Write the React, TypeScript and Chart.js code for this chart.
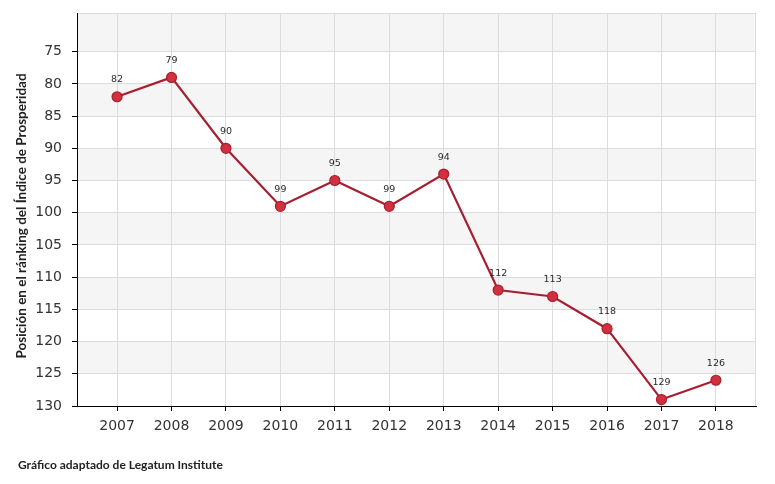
import React, { useEffect, useRef } from "react";
import { Chart, registerables } from "chart.js";

Chart.register(...registerables);

const years: number[] = [2007, 2008, 2009, 2010, 2011, 2012, 2013, 2014, 2015, 2016, 2017, 2018];
const ranking: number[] = [82, 79, 90, 99, 95, 99, 94, 112, 113, 118, 129, 126];
const yTicks: number[] = [75, 80, 85, 90, 95, 100, 105, 110, 115, 120, 125, 130];
const yMin = 69;
const yMax = 130;
const bandStops: number[] = [69, 75, 80, 85, 90, 95, 100, 105, 110, 115, 120, 125, 130];
const yTitle = "Posición en el ránking del Índice de Prosperidad";
const footer = "Gráfico adaptado de Legatum Institute";

const bandsPlugin = {
  id: "bands",
  beforeDraw(chart: any) {
    const { ctx, chartArea } = chart;
    const ys = chart.scales.y;
    ctx.save();
    ctx.fillStyle = "#ffffff";
    ctx.fillRect(0, 0, chart.width, chart.height);
    ctx.fillStyle = "#f5f5f5";
    for (let i = 0; i < bandStops.length - 1; i += 2) {
      const a = ys.getPixelForValue(bandStops[i]);
      const b = ys.getPixelForValue(bandStops[i + 1]);
      ctx.fillRect(chartArea.left, Math.min(a, b), chartArea.right - chartArea.left, Math.abs(b - a));
    }
    ctx.strokeStyle = "#dcdcdc";
    ctx.lineWidth = 1;
    ctx.strokeRect(
      Math.round(chartArea.left) + 0.5,
      Math.round(chartArea.top) + 0.5,
      Math.round(chartArea.right - chartArea.left) - 1,
      Math.round(chartArea.bottom - chartArea.top)
    );
    ctx.restore();
  },
};

const textPlugin = {
  id: "texts",
  afterDraw(chart: any) {
    const { ctx } = chart;
    const meta = chart.getDatasetMeta(0);
    ctx.save();
    ctx.fillStyle = "#2a2a2a";
    ctx.font = "9.5px 'DejaVu Sans'";
    ctx.textAlign = "center";
    ctx.textBaseline = "middle";
    meta.data.forEach((pt: any, i: number) => {
      ctx.fillText(String(ranking[i]), pt.x, pt.y - 17);
    });
    ctx.fillStyle = "#222222";
    ctx.font = "bold 12px Lato";
    ctx.textAlign = "left";
    ctx.fillText(footer, 18, 465);
    ctx.font = "bold 13.5px Lato";
    ctx.translate(22, 216);
    ctx.rotate(-Math.PI / 2);
    ctx.textAlign = "center";
    ctx.fillText(yTitle, 0, 0);
    ctx.restore();
  },
};

export default function App() {
  const ref = useRef<HTMLCanvasElement | null>(null);
  useEffect(() => {
    if (!ref.current) return;
    const chart = new Chart(ref.current, {
      type: "line",
      data: {
        datasets: [
          {
            data: years.map((yr, i) => ({ x: yr, y: ranking[i] })),
            borderColor: "#a61f30",
            borderWidth: 2.2,
            backgroundColor: "#d2303f",
            pointBackgroundColor: "#d2303f",
            pointBorderColor: "#a61f30",
            pointBorderWidth: 1.2,
            pointRadius: 5,
            tension: 0,
            fill: false,
          },
        ],
      },
      options: {
        animation: false,
        responsive: true,
        maintainAspectRatio: false,
        layout: { padding: { left: 0, top: 13, right: 19, bottom: 0 } },
        plugins: { legend: { display: false }, tooltip: { enabled: false } },
        scales: {
          x: {
            type: "linear",
            min: 2006.264,
            max: 2018.736,
            offset: false,
            afterBuildTicks: (scale: any) => {
              scale.ticks = years.map((v) => ({ value: v }));
            },
            afterFit: (scale: any) => {
              scale.height = 78;
              scale.paddingLeft = 0;
              scale.paddingRight = 0;
            },
            grid: { color: "#dcdcdc", tickColor: "#000000", tickLength: 5, drawOnChartArea: true },
            border: { color: "#000000", width: 1 },
            ticks: {
              callback: (v: any) => String(v),
              color: "#333333",
              font: { family: "'DejaVu Sans'", size: 14 },
              padding: 7,
              maxRotation: 0,
              autoSkip: false,
            },
          },
          y: {
            type: "linear",
            reverse: true,
            min: yMin,
            max: yMax,
            afterBuildTicks: (scale: any) => {
              scale.ticks = yTicks.map((v) => ({ value: v }));
            },
            afterFit: (scale: any) => {
              scale.width = 77;
              scale.paddingTop = 0;
              scale.paddingBottom = 0;
            },
            grid: { color: "#dcdcdc", tickColor: "#000000", tickLength: 5 },
            border: { color: "#000000", width: 1 },
            ticks: {
              color: "#333333",
              font: { family: "'DejaVu Sans'", size: 14 },
              padding: 10,
              autoSkip: false,
            },
          },
        },
      },
      plugins: [bandsPlugin, textPlugin],
    });
    return () => chart.destroy();
  }, []);
  return (
    <div style={{ position: "absolute", left: 0, top: 0, width: 775, height: 484, background: "#fff" }}>
      <canvas ref={ref} />
    </div>
  );
}
